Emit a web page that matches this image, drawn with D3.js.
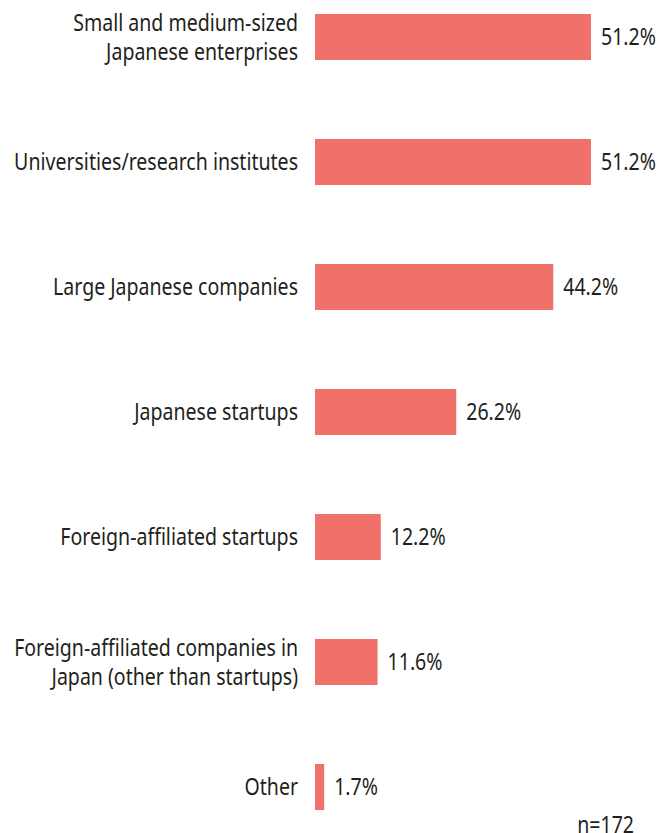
<!DOCTYPE html>
<html lang="en">
    <head>
        <meta charset="utf-8">
        <title>D3</title>
        <script type="text/javascript" src="https://cdnjs.cloudflare.com/ajax/libs/d3/7.8.5/d3.min.js"></script>
        <style type="text/css">
            body { margin: 0; background: #fff; }
            text { font-family: "Noto Sans", sans-serif; fill: #231f20; font-size: 23px; }
        </style>
    </head>
    <body>
        <script type="text/javascript">
            var w = 660;
            var h = 833;

            var categories = [
                ["Small and medium-sized", "Japanese enterprises"],
                ["Universities/research institutes"],
                ["Large Japanese companies"],
                ["Japanese startups"],
                ["Foreign-affiliated startups"],
                ["Foreign-affiliated companies in", "Japan (other than startups)"],
                ["Other"]
            ];
            var values = [51.2, 51.2, 44.2, 26.2, 12.2, 11.6, 1.7];
            var note = "n=172";

            // the original font is a condensed face, so squeeze Noto Sans a bit
            var sx = 0.85;

            var svg = d3.select("body")
                        .append("svg")
                        .attr("width", w)
                        .attr("height", h);

            var x = d3.scaleLinear()
                      .domain([0, 51.2])
                      .range([315, 591]);

            var y = d3.scaleBand()
                      .domain(d3.range(values.length))
                      .range([14, 810])
                      .paddingInner(0.632)
                      .paddingOuter(0);

            svg.selectAll("rect")
              .data(values)
              .enter()
              .append("rect")
              .attr("x", x(0))
              .attr("y", function (d, i) { return y(i); })
              .attr("width", function (d) { return x(d) - x(0); })
              .attr("height", y.bandwidth())
              .attr("fill", "#f0706a");

            // value labels
            svg.selectAll("text.val")
              .data(values)
              .enter()
              .append("text")
              .attr("class", "val")
              .attr("transform", function (d, i) {
                  return "translate(" + (x(d) + 10) + "," + (y(i) + y.bandwidth() / 2) + ") scale(" + sx + ",1)";
              })
              .attr("dy", "0.35em")
              .text(function (d) { return d.toFixed(1) + "%"; });

            // category labels, one or two lines
            var lab = svg.selectAll("text.cat")
              .data(categories)
              .enter()
              .append("text")
              .attr("class", "cat")
              .attr("text-anchor", "end")
              .attr("transform", function (d, i) {
                  return "translate(298," + (y(i) + y.bandwidth() / 2) + ") scale(" + sx + ",1)";
              });

            lab.selectAll("tspan")
              .data(function (d) { return d; })
              .enter()
              .append("tspan")
              .attr("x", 0)
              .attr("y", function (d, j, nodes) {
                  return (j - (nodes.length - 1) / 2) * 29;
              })
              .attr("dy", "0.35em")
              .text(function (d) { return d; });

            svg.append("text")
              .attr("transform", "translate(634,833) scale(" + sx + ",1)")
              .attr("text-anchor", "end")
              .attr("font-size", "22px")
              .text(note);
        </script>
    </body>
</html>
